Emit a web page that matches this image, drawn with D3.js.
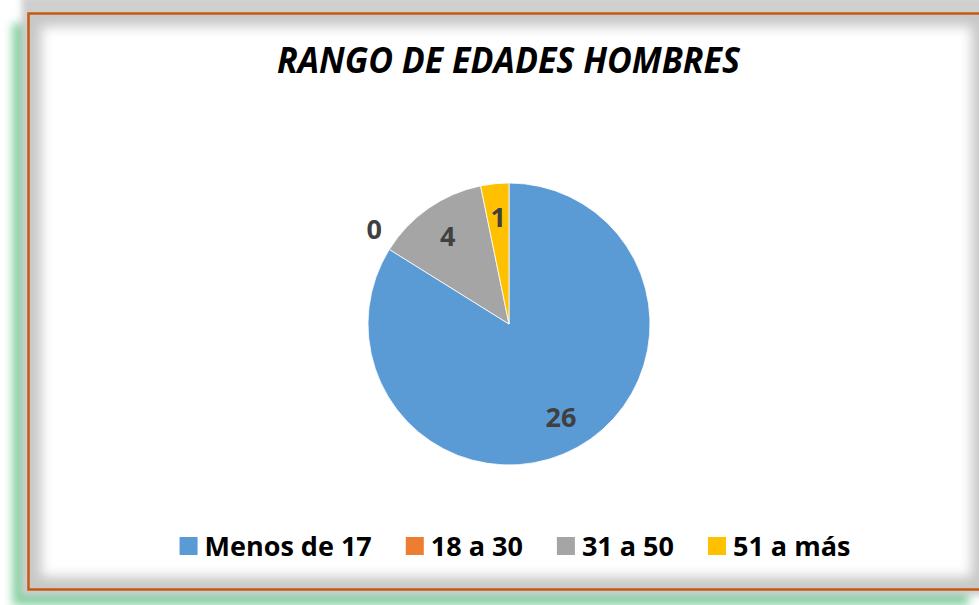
<!DOCTYPE html>
<html>
<head>
<meta charset="utf-8">
<script src="https://cdn.jsdelivr.net/npm/d3@7"></script>
<style>
  body { margin: 0; background: #fff; }
  svg { display: block; }
</style>
</head>
<body>
<script>
// chart data
const categories = ['Menos de 17', '18 a 30', '31 a 50', '51 a más'];
const values = [26, 0, 4, 1];
const colors = ['#5B9BD5', '#ED7D31', '#A5A5A5', '#FFC000'];
const title = 'RANGO DE EDADES HOMBRES';

const W = 979, H = 605;
const font = "'Open Sans', 'Noto Sans', sans-serif";

const svg = d3.select('body').append('svg')
    .attr('width', W)
    .attr('height', H);

const defs = svg.append('defs');
function blur(id, sd) {
    defs.append('filter').attr('id', id)
        .attr('x', '-10%').attr('y', '-10%').attr('width', '120%').attr('height', '120%')
        .append('feGaussianBlur').attr('stdDeviation', sd);
}
blur('blurGreen', 5);
blur('blurGrey', 3);
blur('blurInner', 6);

// frame geometry (chart area box)
const frame = {x: 28.5, y: 13.5, w: 956, h: 576};

defs.append('clipPath').attr('id', 'inside')
    .append('rect')
    .attr('x', frame.x).attr('y', frame.y)
    .attr('width', frame.w).attr('height', frame.h);

// outer glow: green on left / bottom, grey all round
svg.append('rect')
    .attr('x', frame.x - 16).attr('y', frame.y + 10)
    .attr('width', frame.w).attr('height', frame.h + 6)
    .attr('fill', '#86d1a2')
    .attr('filter', 'url(#blurGreen)');
svg.append('rect')
    .attr('x', frame.x - 7).attr('y', frame.y - 18)
    .attr('width', frame.w + 14).attr('height', frame.h + 24)
    .attr('fill', '#cfcfcf')
    .attr('filter', 'url(#blurGrey)');

// inner area with inset shadow
svg.append('rect')
    .attr('x', frame.x).attr('y', frame.y)
    .attr('width', frame.w).attr('height', frame.h)
    .attr('fill', '#fff');
svg.append('g').attr('clip-path', 'url(#inside)')
    .append('rect')
    .attr('x', frame.x).attr('y', frame.y)
    .attr('width', frame.w).attr('height', frame.h)
    .attr('fill', 'none')
    .attr('stroke', '#c8c8c8')
    .attr('stroke-width', 26)
    .attr('filter', 'url(#blurInner)');

svg.append('rect')
    .attr('x', frame.x).attr('y', frame.y)
    .attr('width', frame.w).attr('height', frame.h)
    .attr('fill', 'none')
    .attr('stroke', '#C65911')
    .attr('stroke-width', 2.5);

// title
const titleText = svg.append('text')
    .attr('x', 508.5)
    .attr('y', 73)
    .attr('text-anchor', 'middle')
    .style('font-family', font)
    .style('font-size', '36px')
    .style('font-weight', 'bold')
    .style('font-style', 'italic')
    .attr('fill', '#000')
    .text(title);
if (titleText.node().getComputedTextLength() > 463) {
    titleText.attr('textLength', 463).attr('lengthAdjust', 'spacingAndGlyphs');
}

// pie
const cx = 509, cy = 324, r = 141;
const data = categories.map((c, i) => ({name: c, value: values[i], color: colors[i]}));
const pie = d3.pie().value(d => d.value).sort(null);
const arcs = pie(data);
const arc = d3.arc().innerRadius(0).outerRadius(r);
const labelArc = d3.arc().innerRadius(r * 0.76).outerRadius(r * 0.76);
const outerLabelArc = d3.arc().innerRadius(r * 1.16).outerRadius(r * 1.16);

const g = svg.append('g').attr('transform', `translate(${cx},${cy})`);
g.selectAll('path')
    .data(arcs.filter(d => d.value > 0))
    .enter()
    .append('path')
    .attr('d', arc)
    .attr('fill', d => d.data.color)
    .attr('stroke', '#fff')
    .attr('stroke-width', 0.8);

g.selectAll('.lbl')
    .data(arcs)
    .enter()
    .append('text')
    .attr('class', 'lbl')
    .attr('transform', d => {
        // empty slices get their label just outside the rim
        const p = d.value > 0 ? labelArc.centroid(d) : outerLabelArc.centroid(d);
        if (d.value === 0) { p[0] += 4; p[1] -= 8; }
        return `translate(${p[0]},${p[1]})`;
    })
    .attr('text-anchor', 'middle')
    .attr('dy', '0.36em')
    .style('font-family', font)
    .style('font-size', '27px')
    .style('font-weight', 'bold')
    .attr('fill', '#404040')
    .text(d => d.value);

// legend
const legend = svg.append('g');
const items = legend.selectAll('g')
    .data(data)
    .enter()
    .append('g');
items.append('rect')
    .attr('width', 18)
    .attr('height', 18)
    .attr('y', 537)
    .attr('fill', d => d.color);
items.append('text')
    .attr('x', 25)
    .attr('y', 555.5)
    .style('font-family', font)
    .style('font-size', '27px')
    .style('font-weight', 'bold')
    .attr('fill', '#000')
    .text(d => d.name);

let xPos = 0;
const gap = 34;
items.each(function() {
    const t = d3.select(this).select('text').node().getComputedTextLength();
    d3.select(this).attr('transform', `translate(${xPos},0)`);
    xPos += 25 + t + gap;
});
const totalW = xPos - gap;
legend.attr('transform', `translate(${515 - totalW / 2},0)`);
</script>
</body>
</html>
